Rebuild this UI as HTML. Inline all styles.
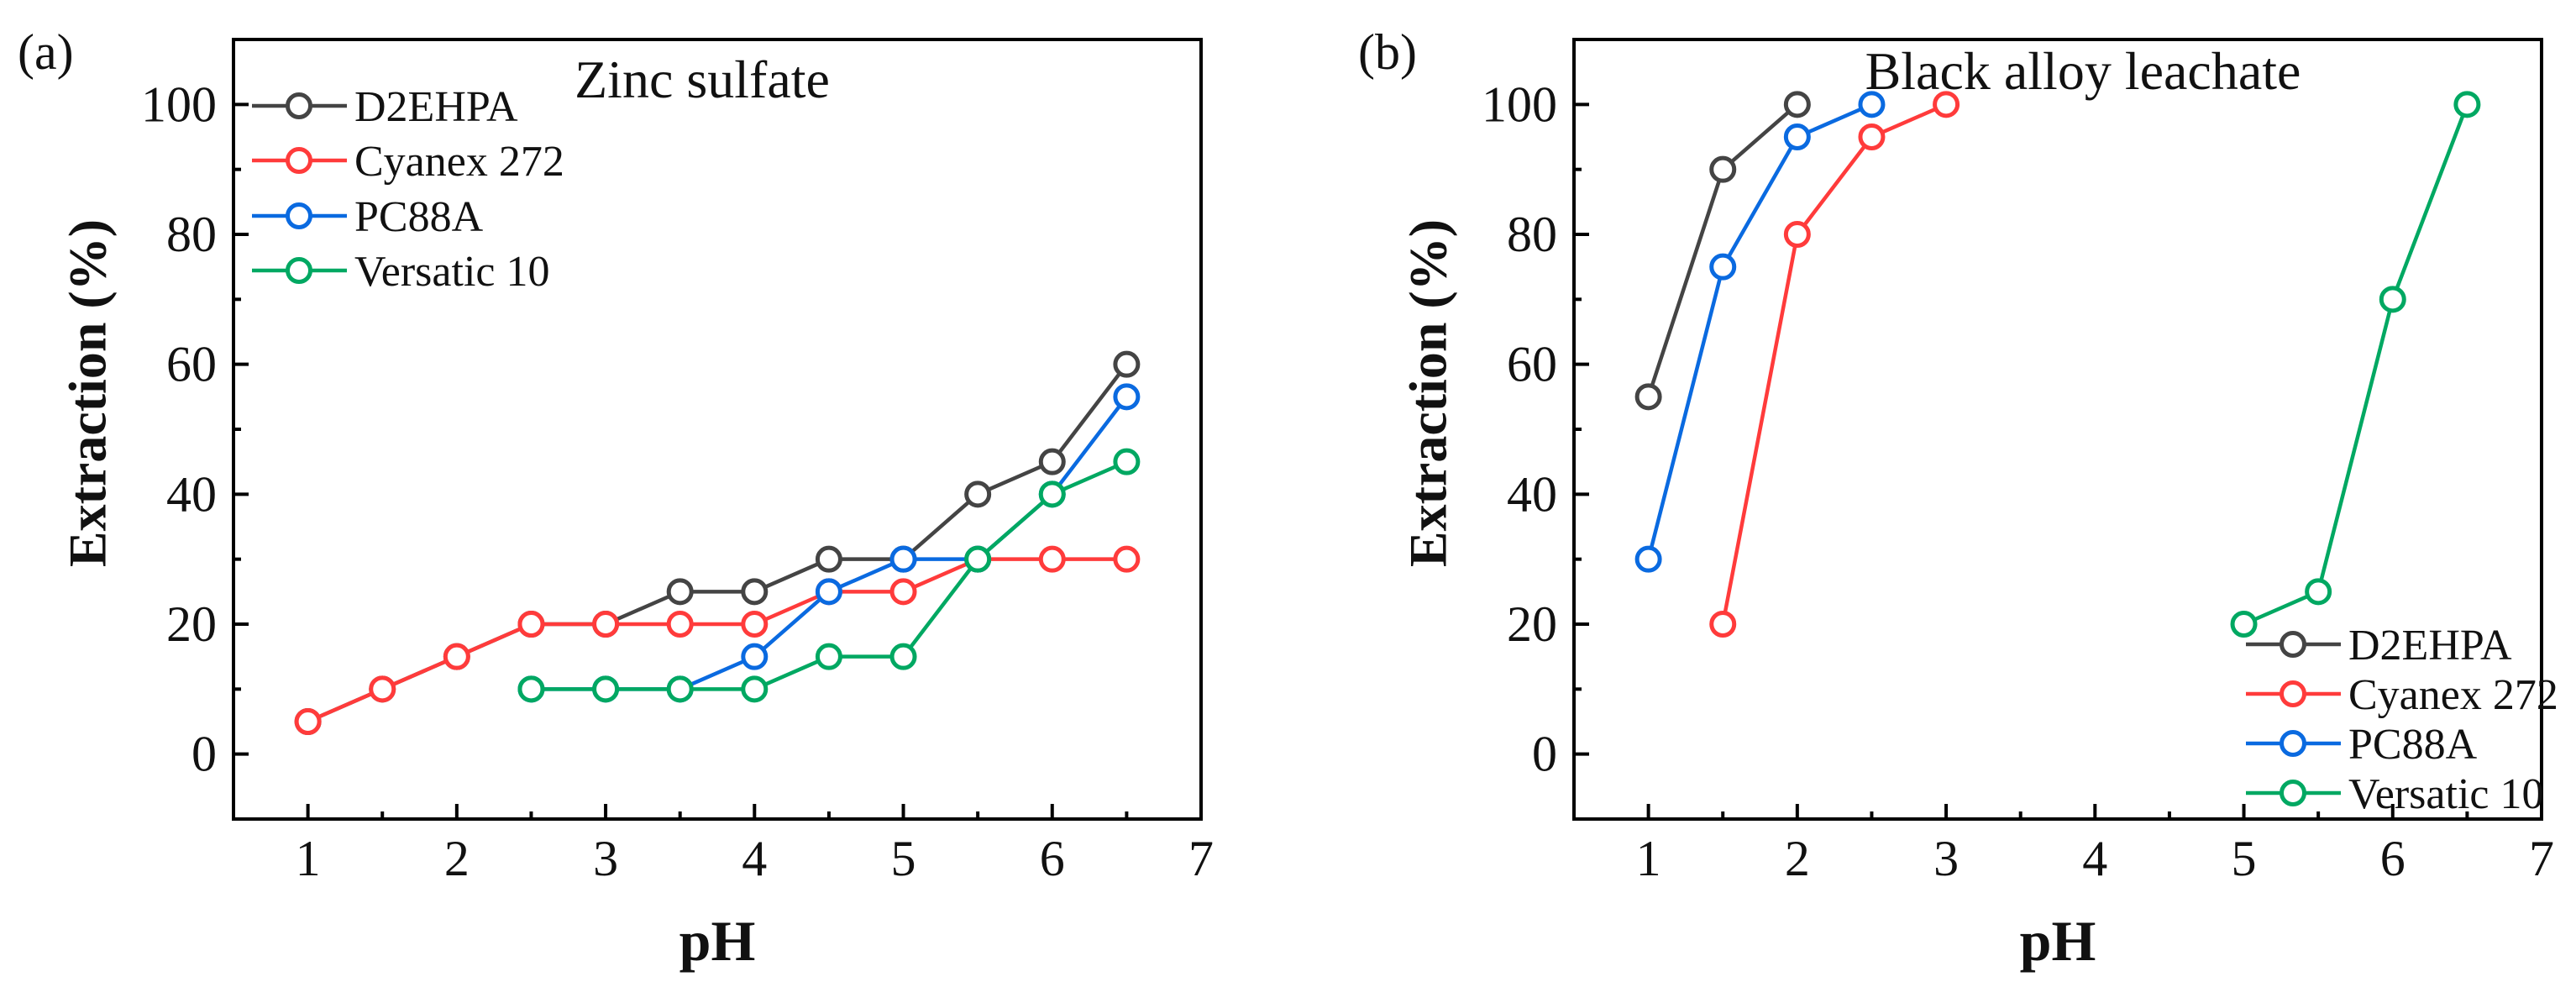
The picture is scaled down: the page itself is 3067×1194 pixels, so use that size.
<!DOCTYPE html>
<html><head><meta charset="utf-8"><style>
html,body{margin:0;padding:0;background:#fff;}
svg{display:block;}
text{font-family:"Liberation Serif",serif;fill:#111;}
</style></head><body>
<svg id="chart" width="3067" height="1194" viewBox="0 0 3067 1194" xmlns="http://www.w3.org/2000/svg">
<rect width="3067" height="1194" fill="#fff"/>
</svg>
<script>
const seriesNames = ["D2EHPA","Cyanex 272","PC88A","Versatic 10"];
const seriesColors = ["#444444","#ff3b3b","#0a6ae0","#00a862"];
const xTicks = [1,2,3,4,5,6,7];
const yTicks = [0,20,40,60,80,100];
// panel a : zinc sulfate
const aD2X = [1,1.5,2,2.5,3,3.5,4,4.5,5,5.5,6,6.5];
const aD2Y = [5,10,15,20,20,25,25,30,30,40,45,60];
const aCyX = [1,1.5,2,2.5,3,3.5,4,4.5,5,5.5,6,6.5];
const aCyY = [5,10,15,20,20,20,20,25,25,30,30,30];
const aPcX = [2.5,3,3.5,4,4.5,5,5.5,6,6.5];
const aPcY = [10,10,10,15,25,30,30,40,55];
const aVeX = [2.5,3,3.5,4,4.5,5,5.5,6,6.5];
const aVeY = [10,10,10,10,15,15,30,40,45];
// panel b : black alloy leachate
const bD2X = [1,1.5,2];
const bD2Y = [55,90,100];
const bCyX = [1.5,2,2.5,3];
const bCyY = [20,80,95,100];
const bPcX = [1,1.5,2,2.5];
const bPcY = [30,75,95,100];
const bVeX = [5,5.5,6,6.5];
const bVeY = [20,25,70,100];

const NS="http://www.w3.org/2000/svg";
const svg=document.getElementById('chart');
function mk(tag,attrs,parent,txt){const e=document.createElementNS(NS,tag);for(const k in attrs)e.setAttribute(k,attrs[k]);if(txt!==undefined)e.textContent=txt;(parent||svg).appendChild(e);return e;}

function panel(cfg){
  const g=mk('g',{});
  
  
  const L=cfg.left,R=cfg.left+1152,T=47,B=975;
  const sx=v=>L+(v-0.5)*(R-L)/6.5;
  const sy=v=>B-(v+10)*(B-T)/120;
  const frame=mk('rect',{x:L,y:T,width:R-L,height:B-T,fill:'none',stroke:'#000','stroke-width':4},g);
  
  
  for(let v=-10;v<=110;v+=10){
    const major=v%20===0;
    const t=mk('line',{x1:L,x2:L+(major?18:9),y1:sy(v),y2:sy(v),stroke:'#000','stroke-width':4},g);
    
    
  }
  yTicks.forEach(v=>{
    const t=mk('text',{x:L-20,y:sy(v)+20,'font-size':60,'text-anchor':'end'},g,String(v));
    
    
  });
  for(let v=1;v<=6.5;v+=0.5){
    const major=v%1===0;
    const t=mk('line',{x1:sx(v),x2:sx(v),y1:B,y2:B-(major?18:9),stroke:'#000','stroke-width':4},g);
    
    
  }
  xTicks.forEach(v=>{
    const t=mk('text',{x:sx(v),y:1042,'font-size':60,'text-anchor':'middle'},g,String(v));
    
    
  });
  const xt=mk('text',{x:(L+R)/2,y:1143,'font-size':68,'font-weight':'bold','text-anchor':'middle'},g,'pH');
  
  
  const yx=cfg.left-167;
  const yt=mk('text',{x:yx,y:468,'font-size':64,'font-weight':'bold','text-anchor':'middle',transform:`rotate(-90 ${yx} 468)`,'dominant-baseline':'middle'},g,'Extraction (%)');
  
  
  const pl=mk('text',{x:cfg.left-257,y:82,'font-size':60},g,cfg.label);
  
  
  const tt=mk('text',{x:cfg.titleX,y:cfg.titleY,'font-size':64,'text-anchor':'middle'},g,cfg.title);
  
  
  cfg.series.forEach((s,i)=>{
    const sg=mk('g',{},g);
    
    
    const pts=s[0].map((x,k)=>sx(x)+','+sy(s[1][k])).join(' ');
    const pl2=mk('polyline',{points:pts,fill:'none',stroke:seriesColors[i],'stroke-width':4.5},sg);
    
    
    s[0].forEach((x,k)=>{
      const c=mk('circle',{cx:sx(x),cy:sy(s[1][k]),r:13.5,fill:'#fff',stroke:seriesColors[i],'stroke-width':5},sg);
      
      
    });
  });
  const lg=mk('g',{},g);
  
  
  seriesNames.forEach((n,i)=>{
    const y=cfg.legY[i];
    const e=mk('g',{},lg);
    
    
    mk('line',{x1:cfg.legX,x2:cfg.legX+113,y1:y,y2:y,stroke:seriesColors[i],'stroke-width':4.5},e);
    mk('circle',{cx:cfg.legX+56,cy:y,r:13.5,fill:'#fff',stroke:seriesColors[i],'stroke-width':5},e);
    mk('text',{x:cfg.legX+122,y:y+18,'font-size':52},e,n);
  });
}
panel({id:'panel-a-zinc-sulfate',left:278,label:'(a)',title:'Zinc sulfate',titleX:836,titleY:116,
  series:[[aD2X,aD2Y],[aCyX,aCyY],[aPcX,aPcY],[aVeX,aVeY]],legX:300,legY:[126,191,257,322]});
panel({id:'panel-b-black-alloy',left:1874,label:'(b)',title:'Black alloy leachate',titleX:2480,titleY:106,
  series:[[bD2X,bD2Y],[bCyX,bCyY],[bPcX,bPcY],[bVeX,bVeY]],legX:2674,legY:[767,826,885,944]});
</script>
</body></html>
